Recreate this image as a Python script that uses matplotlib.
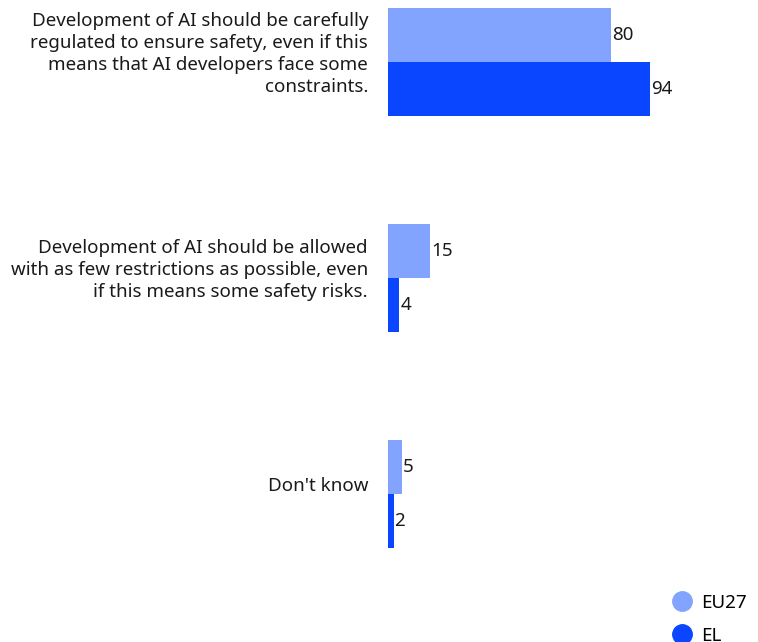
import numpy as np
import matplotlib
matplotlib.use("Agg")
import matplotlib.pyplot as plt
from matplotlib.lines import Line2D

# data
categories = [
    "Development of AI should be carefully\nregulated to ensure safety, even if this\nmeans that AI developers face some\nconstraints.",
    "Development of AI should be allowed\nwith as few restrictions as possible, even\nif this means some safety risks.",
    "Don't know",
]
eu27 = [80, 15, 5]
el = [94, 4, 2]
series_names = ["EU27", "EL"]

col_eu = "#82a4ff"
col_el = "#0a46ff"

plt.rcParams['font.family'] = ['Noto Sans', 'DejaVu Sans']

fig = plt.figure(figsize=(7.58, 6.42), dpi=100)
# bar baseline at x=388px, 2.787 px per unit
ax = fig.add_axes([388 / 758, 0, 278.7 / 758, 1])

pos = np.arange(len(categories))
h = 0.25
bars1 = ax.barh(pos - h / 2, eu27, height=h, color=col_eu)
bars2 = ax.barh(pos + h / 2, el, height=h, color=col_el)

for bars, vals in [(bars1, eu27), (bars2, el)]:
    for b, v in zip(bars, vals):
        ax.annotate(str(v), xy=(b.get_width(), b.get_y() + b.get_height() / 2),
                    xytext=(1, 0), textcoords='offset pixels',
                    ha='left', va='center', fontsize=13.5, color='#1a1a1a')

# category labels to the left of the bars
for p, lab in zip(pos, categories):
    ax.annotate(lab, xy=(0, p), xytext=(-20, 8), textcoords='offset pixels',
                ha='right', va='center', multialignment='right',
                fontsize=13.5, color='#1a1a1a', linespacing=1.3,
                annotation_clip=False)

ax.set_xlim(0, 100)
ax.set_ylim(2.685, -0.287)
ax.set_xticks([])
ax.set_yticks([])
for s in ax.spines.values():
    s.set_visible(False)

handles = [Line2D([], [], marker='o', linestyle='', markersize=14, color=c)
           for c in (col_eu, col_el)]
fig.legend(handles, series_names, loc='upper left', bbox_to_anchor=(663 / 758, 1 - 594 / 642),
           frameon=False, fontsize=13.5, handletextpad=0.05, labelspacing=0.8,
           borderaxespad=0, borderpad=0)

fig.savefig("out.png", dpi=100)
